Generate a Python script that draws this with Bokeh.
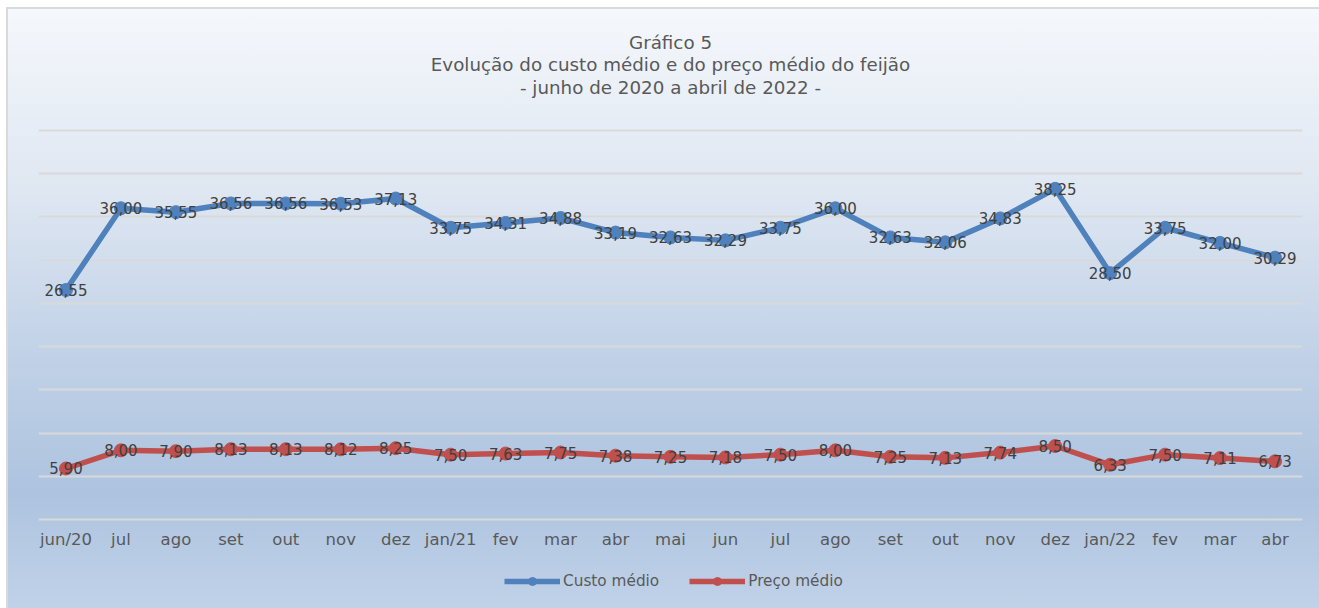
from bokeh.plotting import figure
from bokeh.models import (ColumnDataSource, Range1d, FixedTicker, Label, Legend, LegendItem)
from bokeh.core.properties import value
from bokeh.embed import file_html
from bokeh.resources import INLINE

months = ["jun/20", "jul", "ago", "set", "out", "nov", "dez", "jan/21", "fev", "mar",
          "abr", "mai", "jun", "jul", "ago", "set", "out", "nov", "dez", "jan/22",
          "fev", "mar", "abr"]
custo_medio = [26.55, 36.00, 35.55, 36.56, 36.56, 36.53, 37.13, 33.75, 34.31, 34.88,
               33.19, 32.63, 32.29, 33.75, 36.00, 32.63, 32.06, 34.83, 38.25, 28.50,
               33.75, 32.00, 30.29]
preco_medio = [5.90, 8.00, 7.90, 8.13, 8.13, 8.12, 8.25, 7.50, 7.63, 7.75,
               7.38, 7.25, 7.18, 7.50, 8.00, 7.25, 7.13, 7.74, 8.50, 6.33,
               7.50, 7.11, 6.73]
grid_values = [0, 5, 10, 15, 20, 25, 30, 35, 40, 45]
title_lines = ["Gráfico 5",
               "Evolução do custo médio e do preço médio do feijão",
               "- junho de 2020 a abril de 2022 -"]

FONT = "DejaVu Sans"
BLUE = "#4f81bd"
RED = "#c0504d"

def fmt(v):
    return f"{v:.2f}".replace(".", ",")

idx = list(range(len(months)))
src = ColumnDataSource(dict(
    x=idx, custo=custo_medio, preco=preco_medio,
    custo_lbl=[fmt(v) for v in custo_medio],
    preco_lbl=[fmt(v) for v in preco_medio],
))

# frame spans the full height; the value axis 0..45 occupies pixel rows 519..130
p = figure(width=1319, height=608, output_backend="svg", toolbar_location=None,
           x_range=Range1d(-0.5, len(months) - 0.5), y_range=Range1d(-10.296, 60.039),
           min_border_left=38, min_border_right=17, min_border_top=0, min_border_bottom=0)
p.background_fill_alpha = 0
p.border_fill_alpha = 0
p.outline_line_color = None
grad = "linear-gradient(to bottom, #f5f8fc 0%, #dfe7f2 30%, #c3d3e8 55%, #adc3df 80%, #c2d3e9 100%)"
p.styles = {
    "background": (
        "linear-gradient(#d9d9d9, #d9d9d9) 6px 7px / 100% 2px no-repeat, "
        "linear-gradient(#d9d9d9, #d9d9d9) 6px 7px / 2px 100% no-repeat, "
        + grad + " 6px 7px / 100% 100% no-repeat"
    ),
}

p.xgrid.visible = False
p.ygrid.ticker = FixedTicker(ticks=grid_values)
p.ygrid.grid_line_color = "#d9d9d9"
p.ygrid.grid_line_width = 2
p.yaxis.visible = False

p.xaxis.fixed_location = 0
p.xaxis.ticker = FixedTicker(ticks=idx)
p.xaxis.major_label_overrides = {i: m for i, m in enumerate(months)}
p.xaxis.axis_line_color = None
p.xaxis.major_tick_line_color = None
p.xaxis.minor_tick_line_color = None
p.xaxis.major_tick_out = 0
p.xaxis.major_tick_in = 0
p.xaxis.minor_tick_out = 0
p.xaxis.major_label_text_font = FONT
p.xaxis.major_label_text_font_size = "16.5px"
p.xaxis.major_label_text_color = "#595959"
p.xaxis.major_label_standoff = 11

l1 = p.line("x", "custo", source=src, line_color=BLUE, line_width=5.5)
s1 = p.scatter("x", "custo", source=src, size=13, fill_color=BLUE, line_color=BLUE)
l2 = p.line("x", "preco", source=src, line_color=RED, line_width=5.5)
s2 = p.scatter("x", "preco", source=src, size=13, fill_color=RED, line_color=RED)

for col, ycol in (("custo_lbl", "custo"), ("preco_lbl", "preco")):
    p.text("x", ycol, text=col, source=src, text_align="center", text_baseline="middle",
           text_font=value(FONT), text_font_size="15px", text_color="#404040")

for line, off in zip(title_lines, (88, 66, 43)):
    p.add_layout(Label(x=(len(months) - 1) / 2, y=grid_values[-1], y_offset=off, text=line,
                       text_align="center", text_baseline="middle", text_font=FONT,
                       text_font_size="18.3px", text_color="#595959"))

legend = Legend(items=[LegendItem(label="Custo médio", renderers=[l1, s1]),
                       LegendItem(label="Preço médio", renderers=[l2, s2])],
                orientation="horizontal", location=(466, 17),
                glyph_width=56, glyph_height=20, label_height=20, label_standoff=3,
                spacing=30, padding=0, margin=0,
                background_fill_alpha=0, border_line_color=None,
                label_text_font=FONT, label_text_font_size="15.3px",
                label_text_color="#595959")
p.add_layout(legend, "center")

open("out.html", "w").write(file_html(p, INLINE))
